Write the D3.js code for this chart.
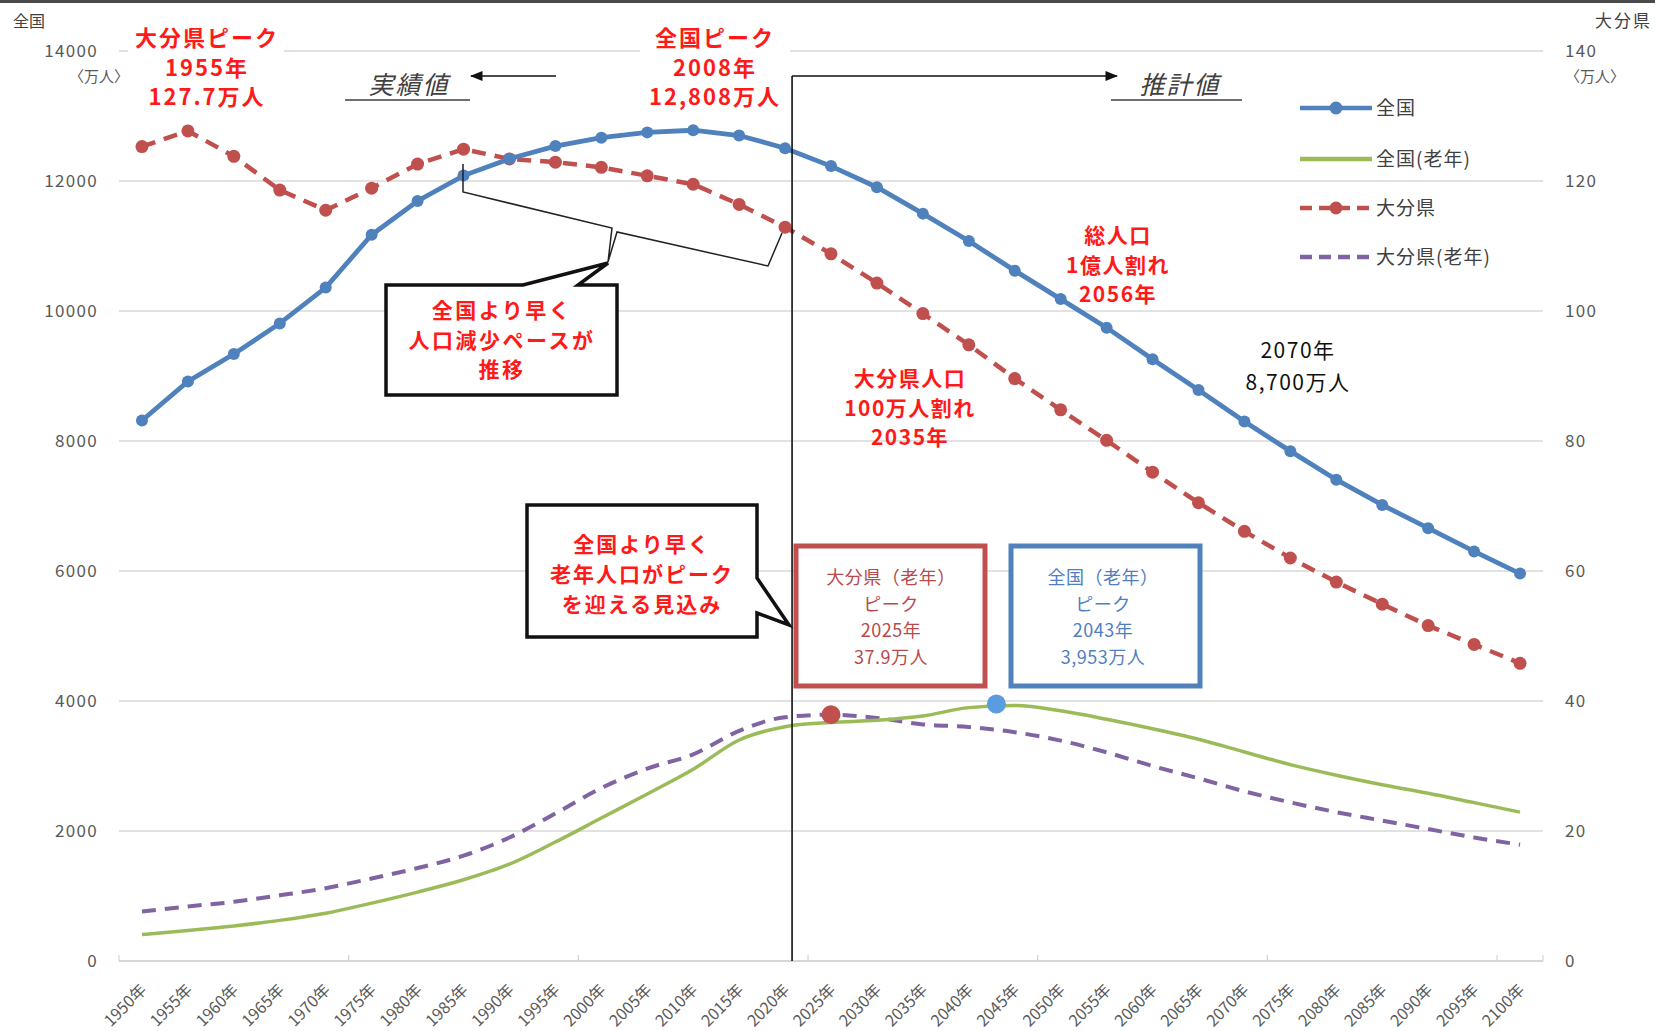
<!DOCTYPE html>
<html><head><meta charset="utf-8">
<script src="https://cdn.jsdelivr.net/npm/d3@7"></script>
<style>
html,body{margin:0;padding:0;background:#fff;}
svg text{font-family:"Noto Sans CJK JP","Noto Sans",sans-serif;}
</style></head>
<body>
<script>
// ---- data ----
const years = [1950,1955,1960,1965,1970,1975,1980,1985,1990,1995,2000,2005,2010,2015,2020,2025,2030,2035,2040,2045,2050,2055,2060,2065,2070,2075,2080,2085,2090,2095,2100];
const yearLabels = years.map(y => y + "年");
// 全国 総人口 (万人)
const national = [8315,8916,9338,9809,10361,11173,11693,12083,12342,12537,12667,12748,12781,12700,12505,12229,11904,11498,11076,10621,10183,9744,9257,8786,8299,7844,7405,7016,6658,6301,5960];
// 全国 老年人口 (万人)
const nationalElderly = [406,470,540,625,735,890,1060,1250,1490,1830,2200,2570,2950,3400,3605,3670,3703,3768,3898,3930,3849,3719,3573,3411,3216,3021,2858,2712,2582,2436,2290];
// 大分県 総人口 (万人)
const oita = [125.3,127.7,123.8,118.6,115.5,118.9,122.6,124.9,123.4,122.9,122.1,120.8,119.5,116.4,112.9,108.8,104.3,99.6,94.8,89.6,84.8,80.1,75.2,70.5,66.1,62.0,58.3,54.9,51.6,48.7,45.8];
// 大分県 老年人口 (万人)
const oitaElderly = [7.6,8.4,9.1,10.1,11.2,12.7,14.3,16.2,19.0,22.7,26.6,29.6,31.8,35.4,37.5,37.9,37.4,36.4,36.0,35.2,33.9,32.1,30.0,28.1,26.1,24.4,22.9,21.6,20.3,19.0,17.9];
const leftTicks = [0,2000,4000,6000,8000,10000,12000,14000];
const rightTicks = [0,20,40,60,80,100,120,140];
const seriesNames = ["全国","全国(老年)","大分県","大分県(老年)"];
const peakOitaElderly = {year:2025, value:37.9};
const peakNationalElderly = {year:2043, value:3953};

// ---- layout ----
const W = 1655, H = 1031;
const svg = d3.select("body").append("svg").attr("width", W).attr("height", H);
const x = d3.scalePoint().domain(years).range([119,1543]).padding(0.5);
const yL = d3.scaleLinear().domain([0,14000]).range([961,51]);
const yR = d3.scaleLinear().domain([0,140]).range([961,51]);
const xYear = yr => { const s = x.step(); return x(1950) + (yr-1950)/5*s; };

const C = {blue:"#4f81bd", red:"#c0504d", green:"#9bbb59", purple:"#8064a2", anno:"#ff1a1a", grid:"#d9d9d9", tick:"#595959"};

// top frame bar
svg.append("rect").attr("x",0).attr("y",0).attr("width",W).attr("height",3).attr("fill","#4a4a4a");

// gridlines
svg.append("g").selectAll("line").data(leftTicks).join("line")
  .attr("x1",119).attr("x2",1543).attr("y1",d=>yL(d)).attr("y2",d=>yL(d))
  .attr("stroke",d=> d===0 ? "#c8c8c8" : C.grid).attr("stroke-width",1.3);
// category tick marks every 5 categories
const tickBounds = d3.range(-0.5, years.length, 5).concat([years.length-0.5]);
svg.append("g").selectAll("line").data(tickBounds).join("line")
  .attr("x1",d=>x(1950)+d*x.step()).attr("x2",d=>x(1950)+d*x.step())
  .attr("y1",955).attr("y2",961).attr("stroke","#d0d0d0").attr("stroke-width",1.2);

// axes
const gl = svg.append("g").attr("transform","translate(119,0)")
  .call(d3.axisLeft(yL).tickValues(leftTicks).tickSize(0).tickPadding(21).tickFormat(d3.format("d")));
gl.select(".domain").remove();
gl.selectAll("text").attr("font-size",17).attr("letter-spacing",1.3).attr("fill",C.tick).style("font-family","'Noto Sans CJK JP'");
const gr = svg.append("g").attr("transform","translate(1543,0)")
  .call(d3.axisRight(yR).tickValues(rightTicks).tickSize(0).tickPadding(22).tickFormat(d3.format("d")));
gr.select(".domain").remove();
gr.selectAll("text").attr("font-size",17).attr("letter-spacing",1.3).attr("fill",C.tick).style("font-family","'Noto Sans CJK JP'");

// x labels
const gx = svg.append("g").attr("transform","translate(0,961)")
  .call(d3.axisBottom(x).tickSize(0).tickFormat((d,i)=>yearLabels[i]));
gx.select(".domain").remove();
gx.selectAll("text").attr("font-size",16).attr("fill",C.tick)
  .attr("text-anchor","end").attr("dy",0).attr("y",0)
  .attr("transform","translate(5,30) rotate(-45)");

// axis titles
svg.append("text").attr("x",13).attr("y",27).attr("font-size",16).attr("fill","#404040").text("全国");
svg.append("text").attr("x",1652).attr("y",27).attr("text-anchor","end").attr("font-size",17).attr("letter-spacing",2).attr("fill","#404040").text("大分県");
svg.append("text").attr("x",99).attr("y",82).attr("text-anchor","middle").attr("font-size",15).attr("fill",C.tick).text("〈万人〉");
svg.append("text").attr("x",1595).attr("y",82).attr("text-anchor","middle").attr("font-size",15).attr("fill",C.tick).text("〈万人〉");

// lines
const lineL = d3.line().x((d,i)=>x(years[i])).y(d=>yL(d));
const lineR = d3.line().x((d,i)=>x(years[i])).y(d=>yR(d));
const smoothL = d3.line().x((d,i)=>x(years[i])).y(d=>yL(d)).curve(d3.curveMonotoneX);
const smoothR = d3.line().x((d,i)=>x(years[i])).y(d=>yR(d)).curve(d3.curveMonotoneX);

svg.append("path").datum(oitaElderly).attr("d",smoothR).attr("fill","none").attr("stroke",C.purple).attr("stroke-width",4).attr("stroke-dasharray","14,9");
svg.append("path").datum(nationalElderly).attr("d",smoothL).attr("fill","none").attr("stroke",C.green).attr("stroke-width",3.5);
svg.append("path").datum(oita).attr("d",lineR).attr("fill","none").attr("stroke",C.red).attr("stroke-width",4.5).attr("stroke-dasharray","14,9");
svg.append("g").selectAll("circle").data(oita).join("circle")
  .attr("cx",(d,i)=>x(years[i])).attr("cy",d=>yR(d)).attr("r",6.5).attr("fill",C.red);
svg.append("path").datum(national).attr("d",lineL).attr("fill","none").attr("stroke",C.blue).attr("stroke-width",4.8);
svg.append("g").selectAll("circle").data(national).join("circle")
  .attr("cx",(d,i)=>x(years[i])).attr("cy",d=>yL(d)).attr("r",6).attr("fill",C.blue);

// peak dots
svg.append("circle").attr("cx",xYear(peakOitaElderly.year)).attr("cy",yR(peakOitaElderly.value)).attr("r",9.5).attr("fill",C.red);
svg.append("circle").attr("cx",xYear(peakNationalElderly.year)).attr("cy",yL(peakNationalElderly.value)).attr("r",9.5).attr("fill","#5b9be0");

// vertical divider + arrows
const vx = x(2020) + 7;
svg.append("defs").append("marker").attr("id","ah").attr("viewBox","0 0 10 10").attr("refX",9).attr("refY",5)
  .attr("markerWidth",8).attr("markerHeight",8).attr("orient","auto-start-reverse")
  .append("path").attr("d","M0,1 L10,5 L0,9 Z").attr("fill","#111");
svg.append("line").attr("x1",vx).attr("x2",vx).attr("y1",76).attr("y2",961).attr("stroke","#111").attr("stroke-width",1.6);
svg.append("line").attr("x1",vx).attr("x2",1117).attr("y1",76).attr("y2",76).attr("stroke","#111").attr("stroke-width",1.6).attr("marker-end","url(#ah)");
svg.append("line").attr("x1",556).attr("x2",471).attr("y1",76).attr("y2",76).attr("stroke","#111").attr("stroke-width",1.6).attr("marker-end","url(#ah)");

// 実績値 / 推計値
svg.append("text").attr("x",409).attr("y",94).attr("text-anchor","middle").attr("font-size",25).attr("font-style","italic").attr("letter-spacing",2).attr("fill","#404040").text("実績値");
svg.append("line").attr("x1",345).attr("x2",470).attr("y1",100).attr("y2",100).attr("stroke","#404040").attr("stroke-width",1.5);
svg.append("text").attr("x",1180).attr("y",94).attr("text-anchor","middle").attr("font-size",25).attr("font-style","italic").attr("letter-spacing",2).attr("fill","#404040").text("推計値");
svg.append("line").attr("x1",1111).attr("x2",1242).attr("y1",100).attr("y2",100).attr("stroke","#404040").attr("stroke-width",1.5);

// helper for multi-line text
function block(lines, cx, y0, dy, opts){
  const t = svg.append("text").attr("text-anchor","middle").attr("font-size",opts.size||22)
    .attr("font-weight",opts.weight||"bold").attr("fill",opts.fill||C.anno).attr("letter-spacing",opts.ls!=null?opts.ls:2);
  lines.forEach((l,i)=> t.append("tspan").attr("x",cx).attr("y",y0+i*dy).text(l));
  return t;
}

// peak labels with white backgrounds
svg.append("rect").attr("x",128).attr("y",28).attr("width",156).attr("height",82).attr("fill","#fff");
block(["大分県ピーク","1955年","127.7万人"],207,46,29.5,{});
svg.append("rect").attr("x",640).attr("y",28).attr("width",150).attr("height",82).attr("fill","#fff");
block(["全国ピーク","2008年","12,808万人"],715,46,29.5,{});

// brace
svg.append("path").attr("d","M463,164 L463,192 L612,228 L608,262 L617,232 L768,266 L782,233")
  .attr("fill","none").attr("stroke","#222").attr("stroke-width",1.5);

// callout 1
svg.append("path").attr("d","M386,285 L523,285 L608,263 L578,285 L617,285 L617,395 L386,395 Z")
  .attr("fill","#fff").attr("stroke","#111").attr("stroke-width",3.5).attr("stroke-linejoin","miter");
block(["全国より早く","人口減少ペースが","推移"],502,318,29.5,{size:21,ls:2.5});

// callout 2
svg.append("path").attr("d","M527,505 L757,505 L757,578 L789,625 L757,613 L757,637 L527,637 Z")
  .attr("fill","#fff").attr("stroke","#111").attr("stroke-width",3.5);
block(["全国より早く","老年人口がピーク","を迎える見込み"],642,552,30,{size:21,ls:2});

// peak boxes
svg.append("rect").attr("x",796).attr("y",546).attr("width",189).attr("height",140).attr("fill","#fff").attr("stroke",C.red).attr("stroke-width",5);
block(["大分県（老年）","ピーク","2025年","37.9万人"],891,584,26.5,{size:18,weight:"normal",fill:"#b84a4a",ls:0.5});
svg.append("rect").attr("x",1011).attr("y",546).attr("width",189).attr("height",140).attr("fill","#fff").attr("stroke",C.blue).attr("stroke-width",5);
block(["全国（老年）","ピーク","2043年","3,953万人"],1103,584,26.5,{size:18,weight:"normal",fill:"#4f7fc0",ls:0.5});

// other annotations
block(["総人口","1億人割れ","2056年"],1118,243,29.5,{size:21,ls:1.5});
block(["大分県人口","100万人割れ","2035年"],910,386,29.5,{size:21,ls:1.5});
block(["2070年","8,700万人"],1298,358,31.5,{size:21,weight:"normal",fill:"#111",ls:1.5});

// legend
const legend = [
  {name:seriesNames[0], color:C.blue, dash:null, marker:true, y:108},
  {name:seriesNames[1], color:C.green, dash:null, marker:false, y:159},
  {name:seriesNames[2], color:C.red, dash:"12,7", marker:true, y:208},
  {name:seriesNames[3], color:C.purple, dash:"12,7", marker:false, y:257}
];
const lg = svg.append("g").selectAll("g").data(legend).join("g");
lg.append("line").attr("x1",1300).attr("x2",1372).attr("y1",d=>d.y).attr("y2",d=>d.y)
  .attr("stroke",d=>d.color).attr("stroke-width",4.5).attr("stroke-dasharray",d=>d.dash);
lg.filter(d=>d.marker).append("circle").attr("cx",1336).attr("cy",d=>d.y).attr("r",6.5).attr("fill",d=>d.color);
lg.append("text").attr("x",1376).attr("y",d=>d.y+7).attr("font-size",19).attr("fill","#404040").attr("letter-spacing",1).text(d=>d.name);
</script>
</body></html>
